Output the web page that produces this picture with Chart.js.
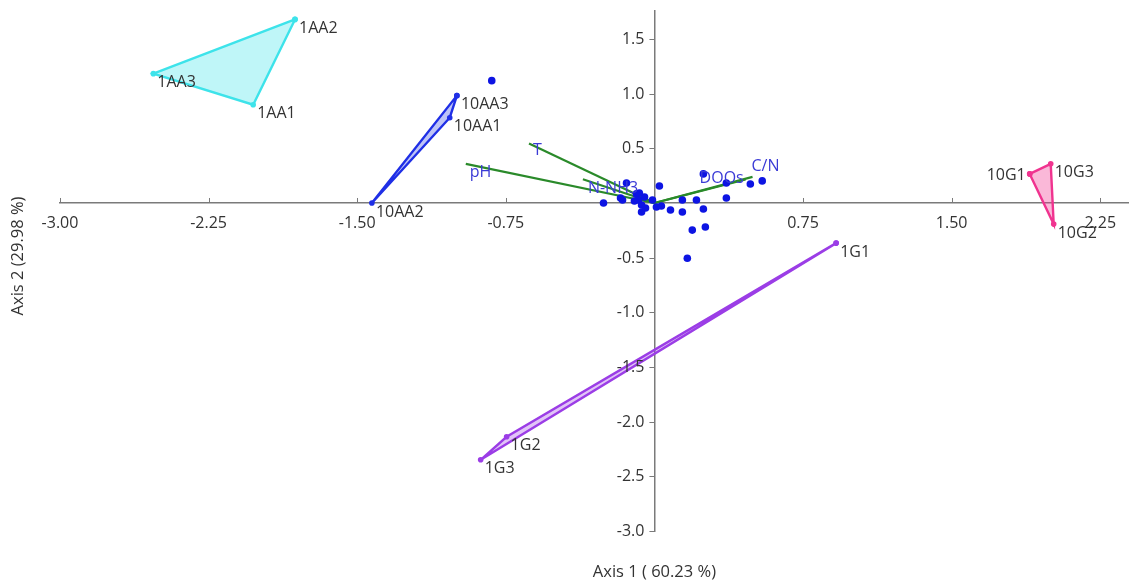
<!DOCTYPE html>
<html><head><meta charset="utf-8">
<script src="https://cdn.jsdelivr.net/npm/chart.js@4.4.1/dist/chart.umd.min.js"></script>
<style>html,body{margin:0;padding:0;background:#fff;}#wrap{width:1132px;height:583px;position:relative;}</style>
</head><body><div id="wrap"><canvas id="c" width="1132" height="583"></canvas></div>
<script>
// ---- data ----
const xTicks = [-3.00, -2.25, -1.50, -0.75, 0.75, 1.50, 2.25];
const yTicks = [1.5, 1.0, 0.5, -0.5, -1.0, -1.5, -2.0, -2.5, -3.0];
const xTitle = 'Axis 1 ( 60.23 %)';
const yTitle = 'Axis 2 (29.98 %)';

const g1AALabels = ['1AA2', '1AA3', '1AA1'];
const g1AAX = [-1.814, -2.529, -2.025];
const g1AAY = [1.679, 1.183, 0.899];

const g10AALabels = ['10AA3', '10AA1', '10AA2'];
const g10AAX = [-0.997, -1.033, -1.426];
const g10AAY = [0.982, 0.780, 0.000];

const g10GLabels = ['10G1', '10G3', '10G2'];
const g10GX = [1.894, 2.000, 2.015];
const g10GY = [0.266, 0.358, -0.193];

const g1GLabels = ['1G1', '1G2', '1G3'];
const g1GX = [0.917, -0.746, -0.877];
const g1GY = [-0.367, -2.138, -2.349];

const speciesX = [-0.257, -0.171, -0.161, -0.141, -0.091, -0.081, -0.065, -0.050, -0.065, -0.045, -0.101, -0.076, -0.010, 0.025, 0.010, 0.035, 0.081, 0.141, 0.141, 0.212, 0.247, 0.191, 0.257, 0.166, 0.247, 0.363, 0.363, 0.484, 0.544, -0.821];
const speciesY = [0.000, 0.046, 0.028, 0.183, 0.083, 0.028, -0.018, 0.055, -0.083, -0.046, 0.018, 0.092, 0.028, 0.156, -0.037, -0.028, -0.064, 0.028, -0.083, 0.028, -0.055, -0.248, -0.220, -0.505, 0.266, 0.183, 0.046, 0.174, 0.202, 1.119];

const vectorLabels = ['pH', 'T', 'N-NH3', 'DOOs', 'C/N'];
const vectorX = [-0.952, -0.633, -0.361, 0.460, 0.495];
const vectorY = [0.358, 0.544, 0.217, 0.215, 0.239];

// ---- styling (not data) ----
const groups = [
  {labels: g1AALabels, xs: g1AAX, ys: g1AAY, color: '#3de3ea', fill: 'rgba(61,227,234,0.33)'},
  {labels: g10AALabels, xs: g10AAX, ys: g10AAY, color: '#1f2fe6', fill: 'rgba(40,60,230,0.30)'},
  {labels: g10GLabels, xs: g10GX, ys: g10GY, color: '#f0338f', fill: 'rgba(240,51,143,0.35)'},
  {labels: g1GLabels, xs: g1GX, ys: g1GY, color: '#9b3de6', fill: 'rgba(155,61,230,0.30)'}
];
const leftLabels = {'10G1': true};
const vecOffsets = {'pH': [4, 9], 'T': [4, 7], 'N-NH3': [5, 9], 'DOOs': [-46, -1], 'C/N': [-1, -10]};
const FONT = '"Open Sans", "DejaVu Sans", sans-serif';
const AXIS = '#7a7a7a';
const TEXT = '#333333';

const datasets = [];
datasets.push({
  label: 'species',
  data: speciesX.map((x, i) => ({x, y: speciesY[i]})),
  showLine: false, pointRadius: 3.8, pointHoverRadius: 3.8,
  backgroundColor: '#0d14e3', borderColor: '#0d14e3', borderWidth: 0
});
vectorLabels.forEach((lab, i) => {
  datasets.push({
    label: lab,
    data: [{x: 0, y: 0}, {x: vectorX[i], y: vectorY[i]}],
    showLine: true, pointRadius: 0, borderColor: '#2a8a2a', borderWidth: 2.2, fill: false
  });
});
groups.forEach(g => {
  const pts = g.xs.map((x, i) => ({x, y: g.ys[i]}));
  pts.push({x: g.xs[0], y: g.ys[0]});
  datasets.push({
    label: g.labels[0],
    data: pts, showLine: true, fill: 'shape',
    backgroundColor: g.fill, borderColor: g.color, borderWidth: 2.4,
    pointRadius: 2.8, pointBackgroundColor: g.color, pointBorderColor: g.color, pointBorderWidth: 0,
    borderJoinStyle: 'miter', tension: 0
  });
});

const labelPlugin = {
  id: 'pcaLabels',
  afterDatasetsDraw(chart) {
    const ctx = chart.ctx, xs = chart.scales.x, ys = chart.scales.y;
    ctx.save();
    // tick marks: x upward, y to the left
    ctx.strokeStyle = AXIS; ctx.lineWidth = 1;
    const y0 = ys.getPixelForValue(0), x0 = xs.getPixelForValue(0);
    xTicks.forEach(v => {
      const px = Math.round(xs.getPixelForValue(v)) + 0.5;
      ctx.beginPath(); ctx.moveTo(px, y0); ctx.lineTo(px, y0 - 5); ctx.stroke();
    });
    // y tick labels (placed left of the centred axis with a gap)
    ctx.font = '16px ' + FONT; ctx.fillStyle = TEXT; ctx.textBaseline = 'middle'; ctx.textAlign = 'right';
    yTicks.forEach(v => {
      const py = Math.round(ys.getPixelForValue(v)) + 0.5;
      ctx.beginPath(); ctx.moveTo(x0, py); ctx.lineTo(x0 - 5, py); ctx.stroke();
      ctx.fillText(v.toFixed(1), x0 - 10, py);
    });
    // group point labels
    groups.forEach(g => {
      g.labels.forEach((lab, i) => {
        const px = xs.getPixelForValue(g.xs[i]), py = ys.getPixelForValue(g.ys[i]);
        if (leftLabels[lab]) { ctx.textAlign = 'right'; ctx.fillText(lab, px - 4, py + 2); }
        else { ctx.textAlign = 'left'; ctx.fillText(lab, px + 4, py + 9); }
      });
    });
    // vector labels
    ctx.fillStyle = '#3b3bd6'; ctx.textAlign = 'left';
    vectorLabels.forEach((lab, i) => {
      const px = xs.getPixelForValue(vectorX[i]), py = ys.getPixelForValue(vectorY[i]);
      const o = vecOffsets[lab];
      ctx.fillText(lab, px + o[0], py + o[1]);
    });
    // axis titles
    ctx.fillStyle = TEXT; ctx.font = '16.5px ' + FONT;
    ctx.textAlign = 'center';
    ctx.fillText(xTitle, x0, 572);
    ctx.translate(18, 256); ctx.rotate(-Math.PI / 2);
    ctx.fillText(yTitle, 0, 0);
    ctx.restore();
  }
};

new Chart(document.getElementById('c'), {
  type: 'scatter',
  data: {datasets},
  plugins: [labelPlugin],
  options: {
    responsive: false, animation: false, devicePixelRatio: 1,
    layout: {padding: {left: 60, right: 2, top: 11, bottom: 52}},
    plugins: {legend: {display: false}, tooltip: {enabled: false}, title: {display: false}},
    scales: {
      x: {
        type: 'linear', position: {y: 0}, min: -3.0, max: 2.39,
        afterBuildTicks: s => { s.ticks = xTicks.map(v => ({value: v})); },
        ticks: {font: {family: FONT, size: 16}, color: TEXT, padding: 5, maxRotation: 0, autoSkip: false,
          callback: v => v.toFixed(2)},
        grid: {drawOnChartArea: false, drawTicks: true, tickLength: 6, tickColor: 'rgba(0,0,0,0)'},
        border: {display: true, color: AXIS, width: 1.5}
      },
      y: {
        type: 'linear', position: {x: 0}, min: -3.0, max: 1.756,
        afterBuildTicks: s => { s.ticks = yTicks.map(v => ({value: v})); },
        ticks: {display: false},
        grid: {drawOnChartArea: false, drawTicks: false},
        border: {display: true, color: AXIS, width: 1.5}
      }
    }
  }
});
</script></body></html>
